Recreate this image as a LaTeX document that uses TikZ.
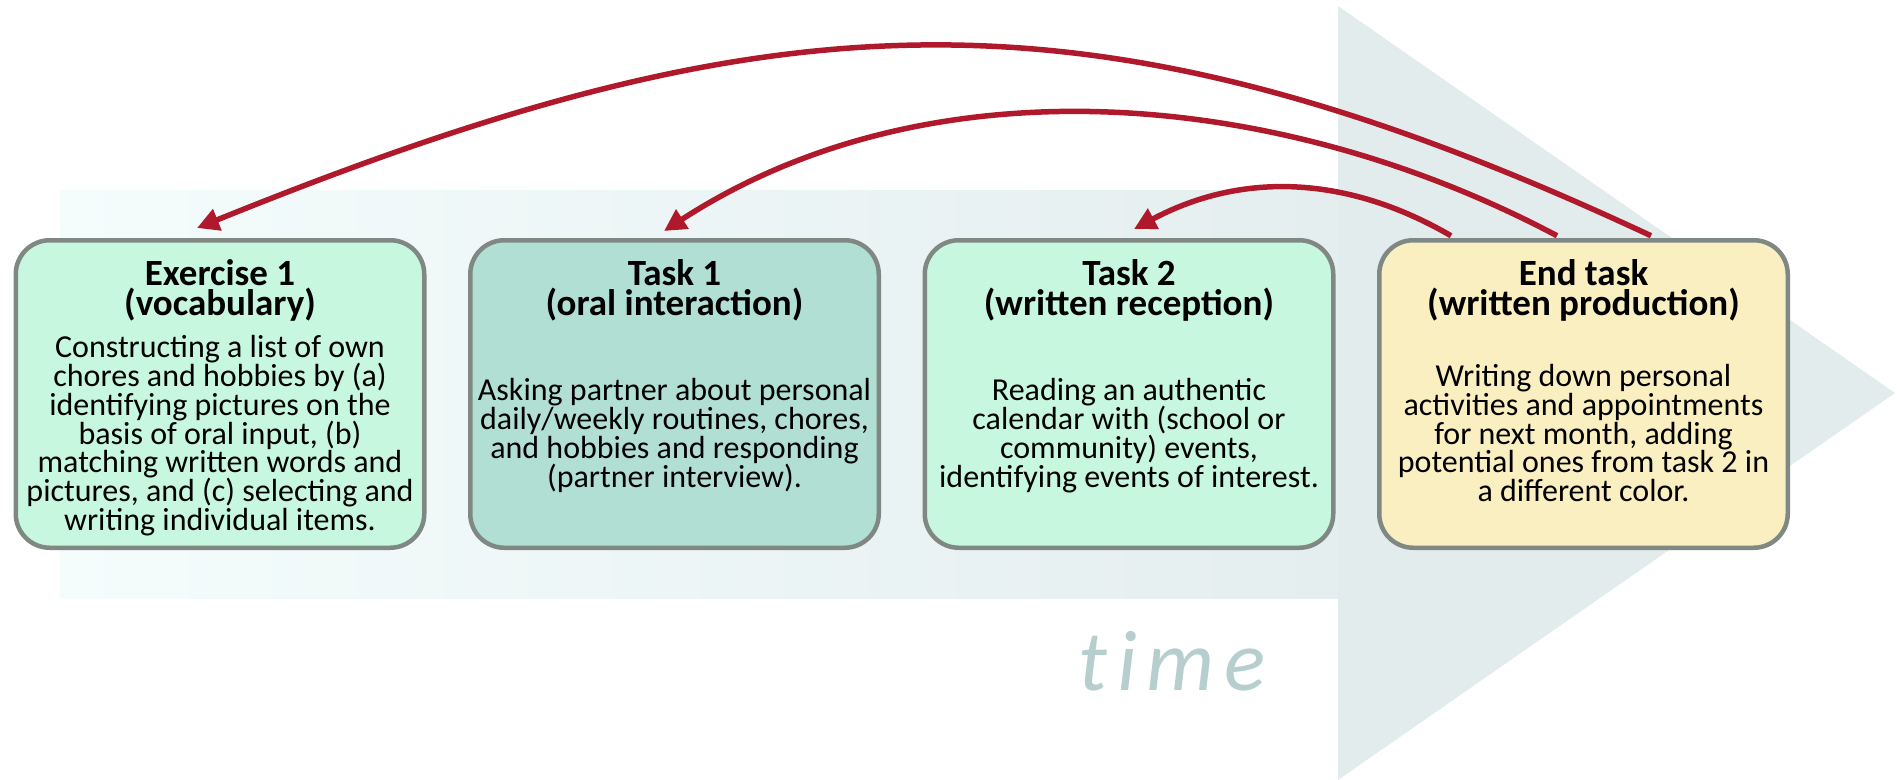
\documentclass[tikz,border=0pt]{standalone}
\usepackage{fontspec}
\setmainfont{Carlito}
\usetikzlibrary{arrows.meta,calc}
\definecolor{redarrow}{HTML}{B0182B}
\definecolor{boxborder}{HTML}{7F8883}
\definecolor{mint}{HTML}{C8F7E0}
\definecolor{boxteal}{HTML}{B2DFD3}
\definecolor{cream}{HTML}{FAEFC0}
\definecolor{shaftL}{HTML}{F4FCFC}
\definecolor{shaftR}{HTML}{E5EEEF}
\definecolor{headc}{HTML}{E3ECED}
\definecolor{timec}{HTML}{B6CFCE}
\newcommand\titletext[1]{\parbox[t]{410pt}{\centering\fontsize{37}{30}\selectfont\bfseries\lineskiplimit=-1000pt\relax #1\par}}
\newcommand\bodytext[1]{\parbox[t]{410pt}{\centering\fontsize{32}{28.8}\selectfont\lineskiplimit=-1000pt\relax #1\par}}
\tikzset{
  taskbox/.style={draw=boxborder, line width=4.5pt, rounded corners=34pt, minimum width=408.5pt, minimum height=307.5pt, inner sep=0pt},
  feedback/.style={draw=redarrow, line width=5.5pt, -{Triangle[length=22pt,width=22pt]}},
  txt/.style={anchor=base, inner sep=0pt}
}
\begin{document}
\begin{tikzpicture}[x=1pt,y=-1pt]
\useasboundingbox (0,0) rectangle (1897,779);
% background time arrow
\fill[left color=shaftL,right color=shaftR] (60,190) rectangle (1338,598);
\fill[headc] (1338,6) -- (1895,393) -- (1338,780) -- cycle;
% boxes
\node[taskbox, fill=mint] (ex1) at (220,394) {};
\node[taskbox, fill=boxteal] (t1) at (674.5,394) {};
\node[taskbox, fill=mint] (t2) at (1129,394) {};
\node[taskbox, fill=cream] (end) at (1583.5,394) {};
% titles
\node[txt] (ex1title) at (220,285) {\titletext{Exercise 1\\(vocabulary)}};
\node[txt] (t1title) at (674.5,285) {\titletext{Task 1\\(oral interaction)}};
\node[txt] (t2title) at (1129,285) {\titletext{Task 2\\(written reception)}};
\node[txt] (endtitle) at (1583.5,285) {\titletext{End task\\(written production)}};
% bodies
\node[txt] (ex1body) at (220,357.6) {\bodytext{Constructing a list of own\\chores and hobbies by (a)\\identifying pictures on the\\basis of oral input, (b)\\matching written words and\\pictures, and (c) selecting and\\writing individual items.}};
\node[txt] (t1body) at (674.5,400.8) {\bodytext{Asking partner about personal\\daily/weekly routines, chores,\\and hobbies and responding\\(partner interview).}};
\node[txt] (t2body) at (1129,400.8) {\bodytext{Reading an authentic\\calendar with (school or\\community) events,\\identifying events of interest.}};
\node[txt] (endbody) at (1583.5,386.4) {\bodytext{Writing down personal\\activities and appointments\\for next month, adding\\potential ones from task 2 in\\a different color.}};
% time label
\node[anchor=base west, inner sep=0pt, text=timec, font=\fontsize{86}{86}\selectfont\itshape] (time) at (1078,690) {t\kern10pt i\kern10pt m\kern10pt e};
% feedback arrows
\draw[feedback] ([xshift=274pt,yshift=2.25pt]end.north west) .. controls +(-563,-263) and +(576,-233) .. ([xshift=-23pt,yshift=10pt]ex1.north);
\draw[feedback] ([xshift=180pt,yshift=2.25pt]end.north west) .. controls +(-279,-148) and +(265,-172) .. ([xshift=-10.5pt,yshift=7pt]t1.north);
\draw[feedback] ([xshift=74pt,yshift=2.25pt]end.north west) .. controls +(-105,-61) and +(107,-57) .. ([xshift=5pt,yshift=9pt]t2.north);
\end{tikzpicture}
\end{document}
